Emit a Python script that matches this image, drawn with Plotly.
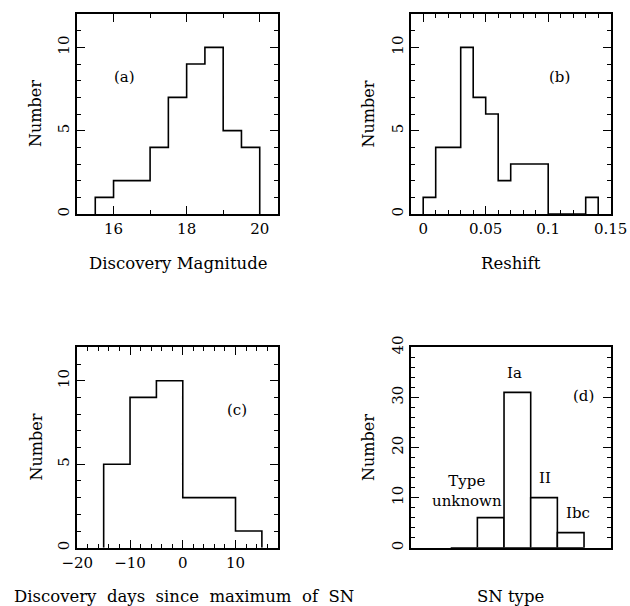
import plotly.graph_objects as go

# ---- data ----
mag_edges = [15.5, 16.0, 16.5, 17.0, 17.5, 18.0, 18.5, 19.0, 19.5, 20.0]
mag_counts = [1, 2, 2, 4, 7, 9, 10, 5, 4]

z_edges = [0.00, 0.01, 0.02, 0.03, 0.04, 0.05, 0.06, 0.07, 0.08, 0.09, 0.10,
           0.11, 0.12, 0.13, 0.14]
z_counts = [1, 4, 4, 10, 7, 6, 2, 3, 3, 3, 0, 0, 0, 1]

day_edges = [-15, -10, -5, 0, 5, 10, 15]
day_counts = [5, 9, 10, 3, 3, 1]

sn_types = ["", "Type<br>unknown", "Ia", "II", "Ibc"]
sn_counts = [0, 6, 31, 10, 3]

FONT = "DejaVu Serif"
W, H = 630, 606


def step_outline(edges, counts):
    xs, ys = [edges[0]], [0]
    for i, c in enumerate(counts):
        xs += [edges[i], edges[i + 1]]
        ys += [c, c]
    xs.append(edges[-1])
    ys.append(0)
    return xs, ys


fig = go.Figure()

# panel pixel boxes (left, right, top, bottom)
boxes = {
    "a": (77, 278, 14, 214),
    "b": (410.7, 610.7, 14, 214),
    "c": (77.3, 277.7, 347.3, 547.7),
    "d": (410.7, 610.7, 347.3, 547.7),
}


def xdom(b):
    return [b[0] / W, b[1] / W]


def ydom(b):
    return [(H - b[3]) / H, (H - b[2]) / H]


line_style = dict(color="black", width=1.6)

xa, ya = step_outline(mag_edges, mag_counts)
fig.add_trace(go.Scatter(x=xa, y=ya, mode="lines", line=line_style, xaxis="x", yaxis="y"))
xb, yb = step_outline(z_edges, z_counts)
fig.add_trace(go.Scatter(x=xb, y=yb, mode="lines", line=line_style, xaxis="x2", yaxis="y2"))
xc, yc = step_outline(day_edges, day_counts)
fig.add_trace(go.Scatter(x=xc, y=yc, mode="lines", line=line_style, xaxis="x3", yaxis="y3"))
fig.add_trace(go.Bar(x=list(range(len(sn_types))), y=sn_counts, width=1,
                     marker=dict(color="white", line=dict(color="black", width=1.6)),
                     xaxis="x4", yaxis="y4"))

tickfont = dict(family=FONT, size=15, color="black")


def axis(dom, rng, anchor, dtick=None, minor_dtick=None, tick0=0, show_ticks=True, ylabels=False):
    d = dict(domain=dom, range=rng, anchor=anchor, showline=True, linewidth=2,
             linecolor="black", mirror="allticks", showgrid=False, zeroline=False,
             tickfont=tickfont, fixedrange=True, automargin=False)
    if show_ticks:
        d.update(ticks="inside", ticklen=8, tickwidth=1.2, tickcolor="black",
                 dtick=dtick, tick0=tick0,
                 minor=dict(ticks="inside", ticklen=4, tickwidth=1.2, tickcolor="black",
                            dtick=minor_dtick, tick0=tick0, showgrid=False))
    else:
        d.update(ticks="", showticklabels=False)
    if ylabels:
        d.update(tickangle=-90)
    return d


fig.update_layout(
    template="none",
    width=W, height=H, margin=dict(l=0, r=0, t=0, b=0, pad=0),
    paper_bgcolor="white", plot_bgcolor="white", showlegend=False,
    xaxis=axis(xdom(boxes["a"]), [15, 20.5], "y", 2, 1),
    yaxis=axis(ydom(boxes["a"]), [0, 12], "x", 5, 1, ylabels=True),
    xaxis2=axis(xdom(boxes["b"]), [-0.01, 0.15], "y2", 0.05, 0.01),
    yaxis2=axis(ydom(boxes["b"]), [0, 12], "x2", 5, 1, ylabels=True),
    xaxis3=axis(xdom(boxes["c"]), [-20, 18], "y3", 10, 2),
    yaxis3=axis(ydom(boxes["c"]), [0, 12], "x3", 5, 1, ylabels=True),
    xaxis4=axis(xdom(boxes["d"]), [-2, 5.5], "y4", show_ticks=False),
    yaxis4=axis(ydom(boxes["d"]), [0, 40], "x4", 10, 2, ylabels=True),
)

anns = []


def paper_text(text, px, py, angle=0, size=16.5):
    anns.append(dict(text=text, x=px / W, y=1 - py / H, xref="paper", yref="paper",
                     showarrow=False, textangle=angle, xanchor="center", yanchor="middle",
                     font=dict(family=FONT, size=size, color="black")))


NB = "\u00a0"
# axis titles
paper_text("Discovery Magnitude", 177.5, 264)
paper_text("Reshift", 510.7, 264)
paper_text(("Discovery days since maximum of SN").replace(" ", " " + NB), 184, 596)
paper_text("SN type", 510.7, 596)
paper_text("Number", 36, 114, angle=-90, size=16)
paper_text("Number", 368.5, 114, angle=-90, size=16)
paper_text("Number", 36, 447.5, angle=-90, size=16)
paper_text("Number", 368.5, 447.5, angle=-90, size=16)


def data_text(text, x, y, xr, yr, size=15):
    anns.append(dict(text=text, x=x, y=y, xref=xr, yref=yr, showarrow=False,
                     xanchor="center", yanchor="middle",
                     font=dict(family=FONT, size=size, color="black")))


data_text("(a)", 16.3, 8.2, "x", "y")
data_text("(b)", 0.109, 8.2, "x2", "y2")
data_text("(c)", 10.2, 8.25, "x3", "y3")
data_text("(d)", 4.47, 30.3, "x4", "y4")
data_text(sn_types[2], 1.9, 34.8, "x4", "y4")
data_text(sn_types[3], 3.03, 13.9, "x4", "y4")
data_text(sn_types[4], 4.27, 6.9, "x4", "y4")
data_text(sn_types[1], 0.11, 11.4, "x4", "y4")

fig.update_layout(annotations=anns)
fig.write_html("out.html", config={"displayModeBar": False},
               post_script="document.body.style.margin='0px';document.body.style.overflow='hidden';")
